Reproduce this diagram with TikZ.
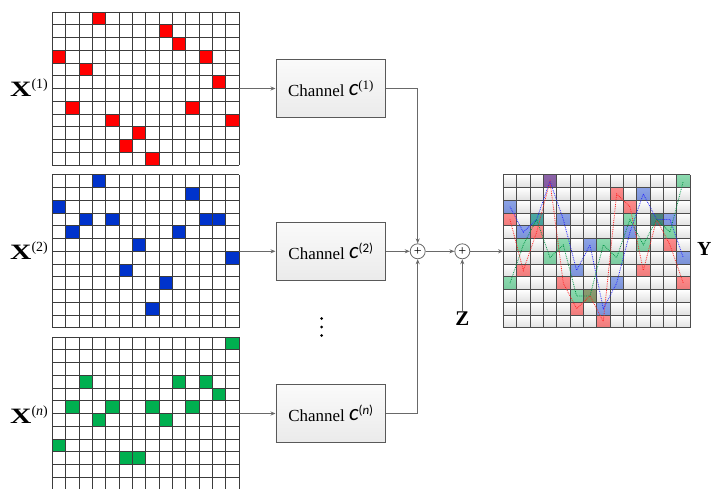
\documentclass[tikz,border=0pt]{standalone}
\usepackage{fontspec}
\usepackage{graphicx}
\setmainfont{Liberation Serif}
\newfontfamily\cfont{Carlito}
\usetikzlibrary{arrows.meta}
\definecolor{cred}{RGB}{255,0,0}
\definecolor{cblue}{RGB}{0,51,204}
\definecolor{cgreen}{RGB}{0,176,80}
\definecolor{lnc}{RGB}{105,105,105}
\definecolor{gridc}{RGB}{60,60,60}
\def\redcells{3/0,8/1,9/2,0/3,11/3,2/4,12/5,1/7,10/7,4/8,13/8,6/9,5/10,7/11}
\def\bluecells{3/0,10/1,0/2,2/3,4/3,11/3,12/3,1/4,9/4,6/5,13/6,5/7,8/8,7/10}
\def\greencells{13/0,2/3,9/3,11/3,12/4,1/5,4/5,7/5,10/5,3/6,8/6,0/8,5/9,6/9}
\newcommand\mygridlines{%
  \foreach \i in {0,...,14} \draw[gridline] (\i*13.333,0) -- (\i*13.333,153);
  \foreach \j in {0,...,12} \draw[gridline] (0,\j*12.75) -- (186.67,\j*12.75);
}
\newcommand\xlab[1]{\scalebox{1.35}[1]{\fontsize{22}{22}\selectfont\bfseries X}\raisebox{8bp}{\fontsize{14}{14}\selectfont(#1)}}
\tikzset{
  gridline/.style={draw=gridc, line width=0.8bp},
  gridbox/.style={inner sep=0pt, minimum width=186.67bp, minimum height=153bp},
  chanbox/.style={draw=black!65, line width=0.9bp, top color=gray!4, bottom color=gray!16,
     minimum width=109.7bp, minimum height=57.4bp, inner sep=0pt},
  sumnode/.style={circle, draw=black!60, fill=white, line width=0.8bp, minimum size=15bp,
     inner sep=0pt, font=\fontsize{14}{14}\selectfont},
  conn/.style={draw=lnc, line width=1.1bp},
  arr/.style={conn, -{Stealth[length=5bp,width=4bp]}},
  biglabel/.style={inner sep=0pt, font=\fontsize{20}{20}\selectfont},
  cellshade/.style={top color=white, bottom color=gray!24},
  trace/.style={line width=0.8bp, densely dotted},
}
\begin{document}
\begin{tikzpicture}[x=1bp,y=-1bp]
\useasboundingbox (0,0) rectangle (711,489);

% ---------- input grids ----------
\node[gridbox] (g1) at (145.63,88.5) {};
\begin{scope}[shift={(52.3,12)}]
  \foreach \c/\r in \redcells \fill[cred] (\c*13.333,\r*12.75) rectangle ++(13.333,12.75);
  \mygridlines
\end{scope}

\node[gridbox] (g2) at (145.63,251.3) {};
\begin{scope}[shift={(52.3,174.8)}]
  \foreach \c/\r in \bluecells \fill[cblue] (\c*13.333,\r*12.75) rectangle ++(13.333,12.75);
  \mygridlines
\end{scope}

\node[gridbox] (g3) at (145.63,413.5) {};
\begin{scope}[shift={(52.3,337)}]
  \foreach \c/\r in \greencells \fill[cgreen] (\c*13.333,\r*12.75) rectangle ++(13.333,12.75);
  \mygridlines
\end{scope}

% ---------- labels X ----------
\node[biglabel, anchor=base west] (x1) at (10,96.5) {\xlab{1}};
\node[biglabel, anchor=base west] (x2) at (10,260) {\xlab{2}};
\node[biglabel, anchor=base west] (xn) at (10,423) {\xlab{\textit{n}}};

% ---------- channel boxes ----------
\node[chanbox] (c1) at (330.8,88.5) {\raisebox{-1bp}{\fontsize{17}{17}\selectfont Channel\ }{\cfont\itshape\fontsize{23}{23}\selectfont c}\raisebox{6bp}{\fontsize{13}{13}\selectfont(1)}};
\node[chanbox] (c2) at (330.8,251.3) {\raisebox{-1bp}{\fontsize{17}{17}\selectfont Channel\ }{\cfont\itshape\fontsize{23}{23}\selectfont c}\raisebox{6bp}{\cfont\fontsize{13}{13}\selectfont(2)}};
\node[chanbox] (cn) at (330.8,413.5) {\raisebox{-1bp}{\fontsize{17}{17}\selectfont Channel\ }{\cfont\itshape\fontsize{23}{23}\selectfont c}\raisebox{6bp}{\cfont\fontsize{13}{13}\selectfont(\textit{n})}};

% vertical dots
\fill[black] (321.5,318.5) circle (1.5) (321.5,327) circle (1.5) (321.5,335.5) circle (1.5);

% ---------- sums ----------
\node[sumnode] (s1) at (417.7,251.3) {+};
\node[sumnode] (s2) at (462.3,251.3) {+};
\node[biglabel, font=\fontsize{21}{21}\selectfont\bfseries] (z) at (462.3,318.5) {Z};

% ---------- output grid ----------
\node[gridbox] (gy) at (596.63,251.3) {};
\begin{scope}[shift={(503.3,174.8)}]
  \foreach \c in {0,...,13} \foreach \r in {0,...,11}
    \shade[cellshade] (\c*13.333,\r*12.75) rectangle ++(13.333,12.75);
  \foreach \c/\r in \redcells \fill[cred, opacity=0.45] (\c*13.333,\r*12.75) rectangle ++(13.333,12.75);
  \foreach \c/\r in \bluecells \fill[cblue, opacity=0.45] (\c*13.333,\r*12.75) rectangle ++(13.333,12.75);
  \foreach \c/\r in \greencells \fill[cgreen, opacity=0.45] (\c*13.333,\r*12.75) rectangle ++(13.333,12.75);
  \foreach \i in {0,...,14} \draw[draw=black!70, line width=0.8bp] (\i*13.333,0) -- (\i*13.333,153);
  \foreach \j in {0,...,12} \draw[draw=black!70, line width=0.8bp] (0,\j*12.75) -- (186.67,\j*12.75);
  \draw[trace, draw=red!85] (6.667,44.625) \foreach \r [count=\c from 1] in {7,4,0,8,10,9,11,1,2,7,3,5,8} { -- ({(\c+0.5)*13.333},{(\r+0.5)*12.75}) };
  \draw[trace, draw=blue!85] (6.667,31.875) \foreach \r [count=\c from 1] in {4,3,0,3,7,5,10,8,4,1,3,3,6} { -- ({(\c+0.5)*13.333},{(\r+0.5)*12.75}) };
  \draw[trace, draw=cgreen!85!black] (6.667,108.375) \foreach \r [count=\c from 1] in {5,3,6,5,9,9,5,6,3,5,3,4,0} { -- ({(\c+0.5)*13.333},{(\r+0.5)*12.75}) };
\end{scope}
\node[biglabel, anchor=base west, font=\fontsize{20}{20}\selectfont\bfseries] (y) at (697,255.5) {Y};

% ---------- connectors ----------
\draw[arr] (g1.east) -- (c1.west);
\draw[arr] (g2.east) -- (c2.west);
\draw[arr] (g3.east) -- (cn.west);
\draw[arr] (c1.east) -| (s1.north);
\draw[arr] (c2.east) -- (s1.west);
\draw[arr] (cn.east) -| (s1.south);
\draw[arr] (s1.east) -- (s2.west);
\draw[arr] (z.north) -- (s2.south);
\draw[arr] (s2.east) -- (gy.west);
\end{tikzpicture}
\end{document}
